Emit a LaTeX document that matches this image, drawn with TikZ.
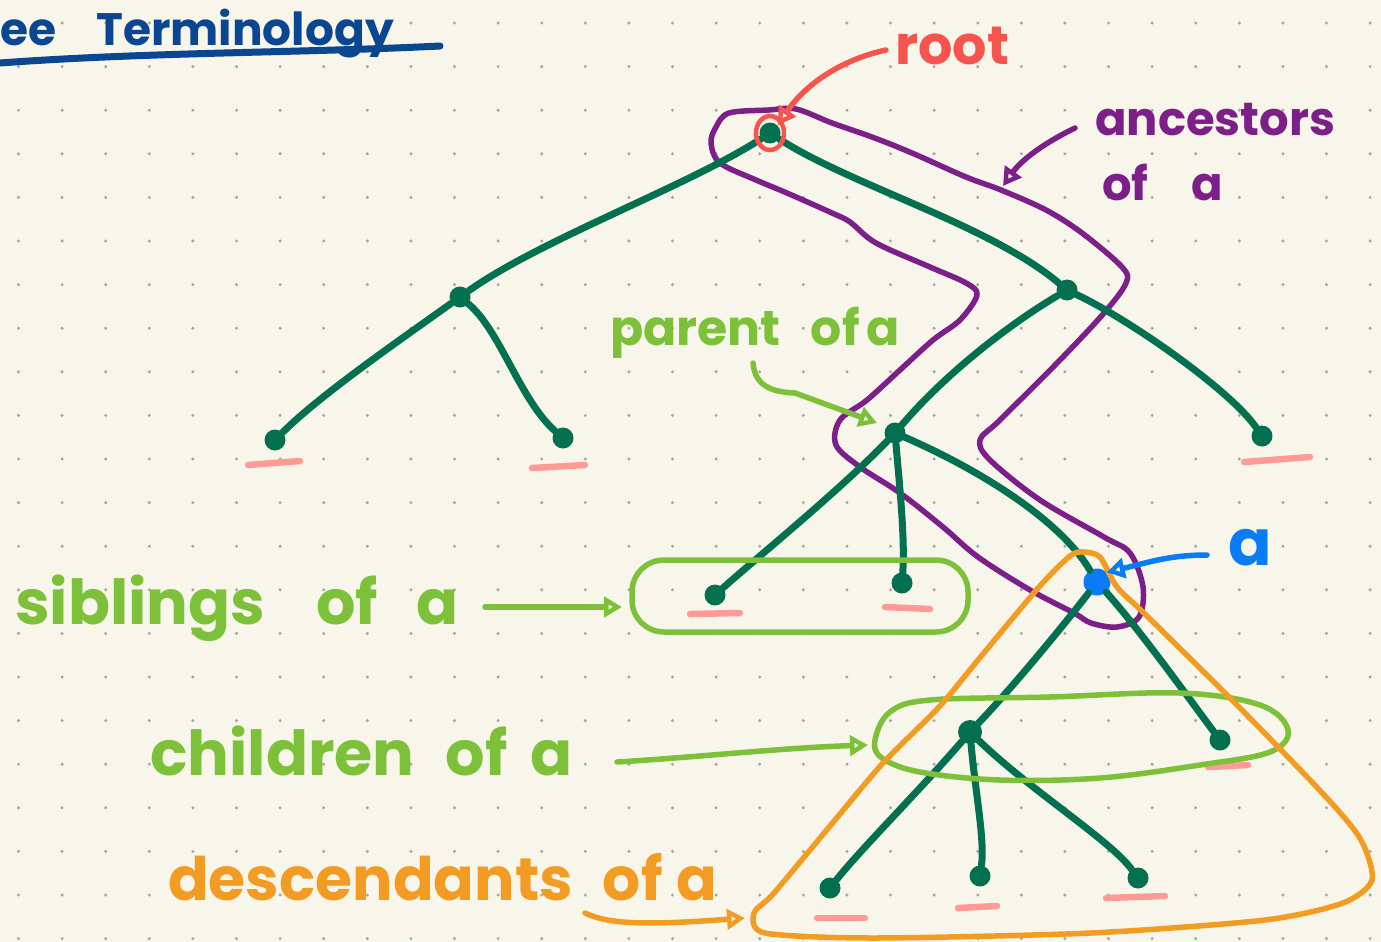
\documentclass[tikz,border=0pt]{standalone}
\usepackage{fontspec}
\setmainfont{Poppins}
\usetikzlibrary{arrows.meta}
\definecolor{bgc}{HTML}{F8F6EB}
\definecolor{dotc}{HTML}{A9A9A2}
\definecolor{treeg}{HTML}{03704F}
\definecolor{rootred}{HTML}{F5554E}
\definecolor{anpurple}{HTML}{7D1F88}
\definecolor{lime}{HTML}{7DC13A}
\definecolor{orng}{HTML}{F39C23}
\definecolor{blu}{HTML}{0A7CF7}
\definecolor{pinkl}{HTML}{FF9A96}
\definecolor{navy}{HTML}{0B4791}
\tikzset{
  tn/.style={circle, fill=treeg, inner sep=0pt, minimum size=21pt},
  edge/.style={draw=treeg, line width=7pt, line cap=round},
  leafmark/.style={draw=pinkl, line width=6.5pt, line cap=round},
  lbl/.style={anchor=base west, inner sep=0pt},
  hand/.style={line width=5.5pt, line cap=round, line join=round},
  tip/.style={-{Triangle[open, length=18pt, width=20pt]}},
}
\begin{document}
\begin{tikzpicture}[x=1pt,y=-1pt]
\useasboundingbox (0,0) rectangle (1381,942);
\fill[bgc] (0,0) rectangle (1381,942);
\foreach \i in {0,...,31}
  \foreach \j in {0,...,21}
    \fill[dotc] ({18.5+43.6*\i},{23+43.6*\j}) circle (1.7);

% title
\node[lbl, text=navy, font=\fontsize{45.5}{48}\selectfont\bfseries] (title) at (0,46) {ee\hspace{40pt}Terminology};
\coordinate (ul0) at (0,63);
\coordinate (ul1) at (440,46);
\draw[navy, hand, line width=7pt] (ul0) .. controls (150,52) and (300,53) .. (ul1);

% purple ancestors loop
\draw[anpurple, hand] plot[smooth cycle, tension=0.55] coordinates {
 (729,113) (769,110) (796,109) (832,123) (872,137) (912,153) (966,177) (1001,190)
 (1046,210) (1082,233) (1122,267) (1126,283) (1104,313) (1060,360) (1000,420)
 (980,440) (990,460) (1040,500) (1104,537) (1130,553) (1143,587) (1139,617)
 (1117,627) (1091,623) (1074,613) (1030,590) (978,557) (943,527) (900,493)
 (860,467) (836,445) (840,420) (867,400) (900,370) (933,340) (960,320) (977,295)
 (966,283) (930,267) (876,243) (850,222) (832,213) (787,193) (756,180) (720,163)
 (711,143) (716,127)};

% tree nodes
\node[tn] (R) at (770,133) {};
\node[tn] (L1) at (460,297) {};
\node[tn] (R1) at (1067,290) {};
\node[tn] (LL) at (275,440) {};
\node[tn] (LR) at (563,438) {};
\node[tn] (P) at (895,433) {};
\node[tn] (RR) at (1262,436) {};
\node[tn] (S1) at (715,595) {};
\node[tn] (S2) at (902,583) {};
\node[tn, fill=blu, minimum size=27pt] (A) at (1097,582) {};
\node[tn, minimum size=24pt] (C1) at (970,732) {};
\node[tn] (C2) at (1220,740) {};
\node[tn] (D1) at (830,888) {};
\node[tn] (D2) at (980,876) {};
\node[tn] (D3) at (1138,878) {};

% tree edges
\path[edge] (R) .. controls (690,185) and (540,240) .. (L1);
\path[edge] (R) .. controls (850,185) and (990,225) .. (R1);
\path[edge] (L1) .. controls (400,340) and (320,395) .. (LL);
\path[edge] (L1) .. controls (500,330) and (520,400) .. (LR);
\path[edge] (R1) .. controls (1000,330) and (940,380) .. (P);
\path[edge] (R1) .. controls (1130,320) and (1230,390) .. (RR);
\path[edge] (P) .. controls (840,490) and (760,555) .. (S1);
\path[edge] (P) .. controls (900,490) and (905,540) .. (S2);
\path[edge] (P) .. controls (980,470) and (1060,520) .. (A);
\path[edge] (A) .. controls (1060,630) and (1010,690) .. (C1);
\path[edge] (A) .. controls (1140,630) and (1190,700) .. (C2);
\path[edge] (C1) .. controls (920,790) and (860,850) .. (D1);
\path[edge] (C1) .. controls (975,790) and (985,840) .. (D2);
\path[edge] (C1) .. controls (1030,790) and (1110,840) .. (D3);

% leaf marks
\draw[leafmark] (248,465) -- (300,461);
\draw[leafmark] (532,468) -- (585,465);
\draw[leafmark] (1244,462) -- (1310,457);
\draw[leafmark] (690,614) -- (740,613);
\draw[leafmark] (885,607) -- (930,609);
\draw[leafmark] (1208,767) -- (1248,765);
\draw[leafmark] (817,918) -- (865,918);
\draw[leafmark] (958,908) -- (997,906);
\draw[leafmark] (1106,898) -- (1165,896);

% root marker
\draw[rootred, line width=4.5pt] (R) ellipse (14 and 17);
\node[lbl, text=rootred, font=\fontsize{54}{58}\selectfont\bfseries] (rootlbl) at (895,65) {root};
\coordinate (rootst) at (886,50);
\draw[rootred, hand, tip] (rootst) .. controls (840,60) and (805,85) .. (R.north east);

% ancestors
\node[lbl, text=anpurple, font=\fontsize{46.5}{50}\selectfont\bfseries] (anc1) at (1095,135) {ancestors};
\node[lbl, text=anpurple, font=\fontsize{46.5}{50}\selectfont\bfseries] (anc2) at (1102,200) {of\hspace{43pt}a};
\coordinate (ancst) at (1075,128);
\coordinate (ancend) at (1003,186);
\draw[anpurple, hand, tip] (ancst) .. controls (1040,145) and (1020,162) .. (ancend);

% parent
\node[lbl, text=lime, font=\fontsize{49}{52}\selectfont\bfseries] (par) at (610,345) {parent\hspace{30pt}of\hspace{7pt}a};
\coordinate (parst) at (753,363);
\coordinate (parend) at (877,423);
\draw[lime, hand, tip] (parst) .. controls (755,385) and (770,392) .. (795,393) -- (parend);

% siblings
\node[lbl, text=lime, font=\fontsize{62}{66}\selectfont\bfseries] (sib) at (15,624) {siblings\hspace{51pt}of\hspace{38pt}a};
\coordinate (sibst) at (485,607);
\draw[lime, hand, rounded corners=32pt] (632,560) rectangle (968,632);
\coordinate (sibend) at (622,607);
\draw[lime, hand, tip] (sibst) -- (sibend);

% children
\node[lbl, text=lime, font=\fontsize{62}{66}\selectfont\bfseries] (chi) at (150,775) {children\hspace{31pt}of\hspace{23pt}a};
\draw[lime, hand] plot[smooth cycle, tension=0.6] coordinates {
 (875,740) (890,712) (930,700) (1050,697) (1180,693) (1260,705) (1288,730)
 (1270,752) (1200,765) (1100,778) (1000,780) (920,772) (882,758)};
\coordinate (chist) at (617,762);
\coordinate (chiend) at (868,745);
\draw[lime, hand, tip] (chist) .. controls (700,757) and (780,748) .. (chiend);

% descendants
\node[lbl, text=orng, font=\fontsize{60}{64}\selectfont\bfseries] (des) at (168,900) {descendants\hspace{30pt}of\hspace{14pt}a};
\draw[orng, hand] plot[smooth cycle, tension=0.45] coordinates {
 (1083,552) (1070,556) (1039,587) (978,660) (939,707) (883,763) (835,820) (774,893)
 (754,913) (765,933) (874,938) (1091,933) (1265,920) (1343,903) (1372,880)
 (1361,840) (1326,797) (1239,707) (1148,617) (1117,587) (1100,557)};
\coordinate (desst) at (585,913);
\coordinate (desend) at (745,918);
\draw[orng, hand, tip] (desst) .. controls (610,925) and (650,925) .. (desend);

% a label
\node[lbl, text=blu, font=\fontsize{64}{68}\selectfont\bfseries] (alb) at (1228,565) {a};
\coordinate (ast) at (1207,555);
\draw[blu, hand, tip] (ast) .. controls (1170,555) and (1150,562) .. (A.north east);
\end{tikzpicture}
\end{document}
